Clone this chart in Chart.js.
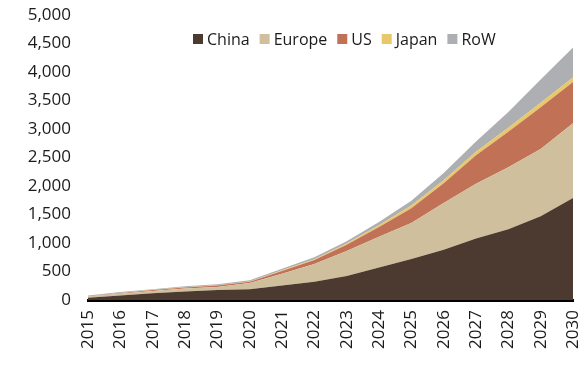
<!DOCTYPE html>
<html>
<head>
<meta charset="utf-8">
<script src="https://cdn.jsdelivr.net/npm/chart.js@4"></script>
<style>
  html, body { margin: 0; padding: 0; background: #fff; }
  #wrap { width: 588px; height: 372px; position: relative; }
</style>
</head>
<body>
<div id="wrap"><canvas id="areaChart"></canvas></div>
<script>
const years = ["2015", "2016", "2017", "2018", "2019", "2020", "2021", "2022",
               "2023", "2024", "2025", "2026", "2027", "2028", "2029", "2030"];
const china  = [40, 80, 120, 150, 175, 190, 255, 320, 420, 570, 720, 880, 1080, 1240, 1470, 1790];
const europe = [20, 30, 40, 50, 55, 110, 205, 310, 440, 540, 630, 820, 960, 1090, 1180, 1310];
const us     = [5, 10, 15, 20, 25, 20, 50, 70, 110, 170, 260, 350, 500, 620, 730, 725];
const japan  = [2, 2, 3, 3, 3, 5, 10, 15, 20, 30, 50, 50, 60, 70, 80, 80];
const row    = [13, 18, 12, 17, 17, 20, 30, 35, 40, 60, 80, 130, 180, 280, 410, 525];

const seriesNames  = ["China", "Europe", "US", "Japan", "RoW"];
const seriesColors = ["#4c3a30", "#d0bf9c", "#c17256", "#e9c86a", "#aeafb2"];

const FONT = "'Open Sans', sans-serif";

// legend sits inside the plot, top right
const insideLegend = {
    id: "insideLegend",
    afterDraw(chart) {
        const c = chart.ctx;
        c.save();
        c.font = "16px " + FONT;
        c.textBaseline = "middle";
        let x = 193;
        const y = 39;
        chart.data.datasets.forEach((ds) => {
            c.fillStyle = ds.backgroundColor;
            c.fillRect(x, y - 5, 10, 10);
            x += 14;
            c.fillStyle = "#1b1b1b";
            c.fillText(ds.label, x, y + 1);
            x += c.measureText(ds.label).width + 10;
        });
        c.restore();
    },
};

const values = [china, europe, us, japan, row];
const datasets = values.map((v, i) => ({
    label: seriesNames[i],
    data: v,
    backgroundColor: seriesColors[i],
    borderWidth: 0,
    fill: i === 0 ? "origin" : "-1",
    pointRadius: 0,
    tension: 0,
}));

const ctx = document.getElementById("areaChart").getContext("2d");
new Chart(ctx, {
    type: "line",
    data: { labels: years, datasets: datasets },
    options: {
        responsive: true,
        maintainAspectRatio: false,
        animation: false,
        layout: {
            padding: { top: 15, right: 15, left: 0, bottom: 0 },
        },
        scales: {
            x: {
                grid: { display: false, drawTicks: false },
                border: { display: true, color: "#000", width: 3 },
                ticks: {
                    minRotation: 90,
                    maxRotation: 90,
                    padding: 10,
                    color: "#1b1b1b",
                    font: { family: FONT, size: 17 },
                },
                afterFit(scale) {
                    scale.height = 72;
                    scale.paddingLeft = 0;
                    scale.paddingRight = 0;
                },
            },
            y: {
                stacked: true,
                min: 0,
                max: 5000,
                grid: { display: false, drawTicks: false },
                border: { display: false },
                ticks: {
                    stepSize: 500,
                    padding: 17,
                    color: "#1b1b1b",
                    font: { family: FONT, size: 17 },
                    callback: (v) => v.toLocaleString("en-US"),
                },
                afterFit(scale) {
                    scale.width = 88;
                    scale.paddingTop = 0;
                    scale.paddingBottom = 0;
                },
            },
        },
        plugins: {
            legend: { display: false },
            tooltip: { enabled: false },
        },
    },
    plugins: [insideLegend],
});
</script>
</body>
</html>
